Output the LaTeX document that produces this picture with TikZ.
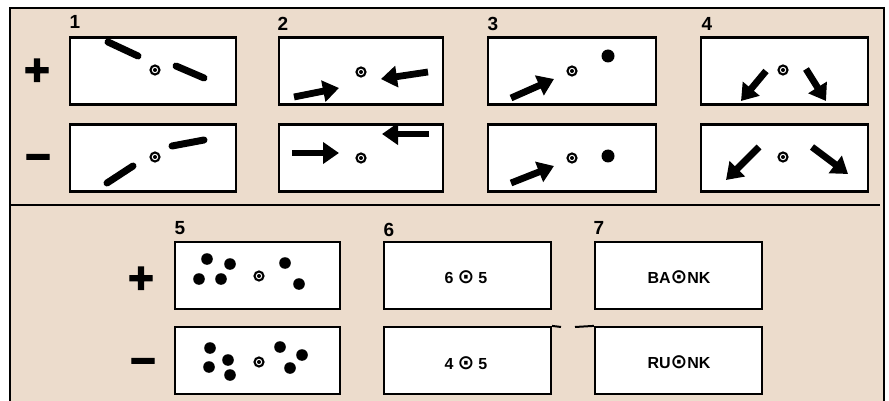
\documentclass[tikz,border=0pt]{standalone}
\usepackage{fontspec}
\setmainfont{Liberation Sans}
\newfontfamily\symfont{DejaVu Sans}
\newfontfamily\signfont[FakeBold=3]{Liberation Sans Bold}
\usetikzlibrary{arrows.meta}
\definecolor{paper}{RGB}{236,220,204}
\tikzset{
  panelbox/.style={draw, line width=2.2pt, fill=white, minimum width=#1, minimum height=67pt, inner sep=0pt},
  bar/.style={line width=7pt, line cap=round},
  arr/.style={line width=6.8pt, -{Triangle[length=16pt,width=21pt]}},
  dotm/.style={fill=black},
  numlabel/.style={inner sep=0pt, font=\fontsize{19}{19}\selectfont\bfseries},
  signlabel/.style={inner sep=0pt, font=\fontsize{44}{44}\selectfont\signfont},
  boxtext/.style={inner sep=0pt, font=\fontsize{16}{16}\selectfont\bfseries},
  tgt/.pic={\draw[line width=2.1pt] (0,0) circle (4.5pt); \fill (0,0) circle (2pt);}
}
\newcommand{\ringsym}{{\fontsize{20}{16}\selectfont\symfont\bfseries ⊙}}
\begin{document}
\begin{tikzpicture}[x=1pt,y=-1pt]
\useasboundingbox (0,0) rectangle (889,401);
% frame
\fill[white] (0,0) rectangle (889,401);
\draw[line width=2pt, fill=paper] (10,8) rectangle (884,410);
\draw[line width=2.4pt] (10,205) -- (880,205);
% labels
\node[numlabel] (l1) at (75,22) {1};
\node[numlabel] (l2) at (283,24) {2};
\node[numlabel] (l3) at (493,24) {3};
\node[numlabel] (l4) at (707,24) {4};
\node[numlabel] (l5) at (180,228) {5};
\node[numlabel] (l6) at (389,230) {6};
\node[numlabel] (l7) at (599,228) {7};
\node[signlabel] (sp1) at (37,72) {+};
\node[signlabel] (sm1) at (38,163) {−};
\node[signlabel] (sp2) at (141,280) {+};
\node[signlabel] (sm2) at (143,367) {−};
% boxes row 1
\node[panelbox=166pt] (b1a) at (153,71) {};
\node[panelbox=166pt] (b1b) at (153,158) {};
\node[panelbox=164pt] (b2a) at (361,71) {};
\node[panelbox=164pt] (b2b) at (361,158) {};
\node[panelbox=168pt] (b3a) at (572,71) {};
\node[panelbox=168pt] (b3b) at (572,158) {};
\node[panelbox=167pt] (b4a) at (784.5,71) {};
\node[panelbox=167pt] (b4b) at (784.5,158) {};
% boxes row 2
\node[panelbox=165pt] (b5a) at (257.5,275.5) {};
\node[panelbox=165pt] (b5b) at (257.5,360.5) {};
\node[panelbox=167pt] (b6a) at (467.5,275.5) {};
\node[panelbox=167pt] (b6b) at (467.5,360.5) {};
\node[panelbox=167pt] (b7a) at (678.5,275.5) {};
\node[panelbox=167pt] (b7b) at (678.5,360.5) {};
\coordinate (g1) at (561,327);
\coordinate (g2) at (575,327);
\draw[line width=2pt] (b6b.north east) -- (g1);
\draw[line width=2pt] (g2) -- (b7b.north west);
% panel 1
\pic at (155,70) {tgt};
\draw[bar] (108,42) -- (138,56);
\draw[bar] (176,66) -- (204,78);
\pic at (155,157) {tgt};
\draw[bar] (107,183) -- (133,166);
\draw[bar] (172,146) -- (204,140);
% panel 2
\pic at (361,72) {tgt};
\draw[arr] (294,97) -- (339,88);
\draw[arr] (428,72) -- (381,79);
\pic at (361,158) {tgt};
\draw[arr] (292,153) -- (339,153);
\draw[arr] (429,134) -- (382,134);
% panel 3
\pic at (572,71) {tgt};
\fill[dotm] (608,56) circle (6.5pt);
\draw[arr] (511,98) -- (554,79);
\pic at (572,158) {tgt};
\fill[dotm] (608,156) circle (6.5pt);
\draw[arr] (511,183) -- (554,166);
% panel 4
\pic at (783,70) {tgt};
\draw[arr] (766,71) -- (741,101);
\draw[arr] (806,69) -- (826,101);
\pic at (783,157) {tgt};
\draw[arr] (759,147) -- (726,180);
\draw[arr] (812,147) -- (848,174);
% panel 5
\pic at (259,276) {tgt};
\foreach \p in {(207,259),(230,264),(199,279),(221,279),(285,263),(299,284)}
  \fill[dotm] \p circle (5.8pt);
\pic at (259,362) {tgt};
\foreach \p in {(210,348),(209,367),(228,360),(230,375),(280,347),(302,355),(290,368)}
  \fill[dotm] \p circle (5.8pt);
% panel 6 and 7
\node[boxtext] (t6a) at (466,277) {6\hspace{4pt}\ringsym\hspace{4pt}5};
\node[boxtext] (t6b) at (466,363) {4\hspace{4pt}\ringsym\hspace{4pt}5};
\node[boxtext] (t7a) at (679,277) {BA\ringsym NK};
\node[boxtext] (t7b) at (679,362) {RU\ringsym NK};
\end{tikzpicture}
\end{document}
